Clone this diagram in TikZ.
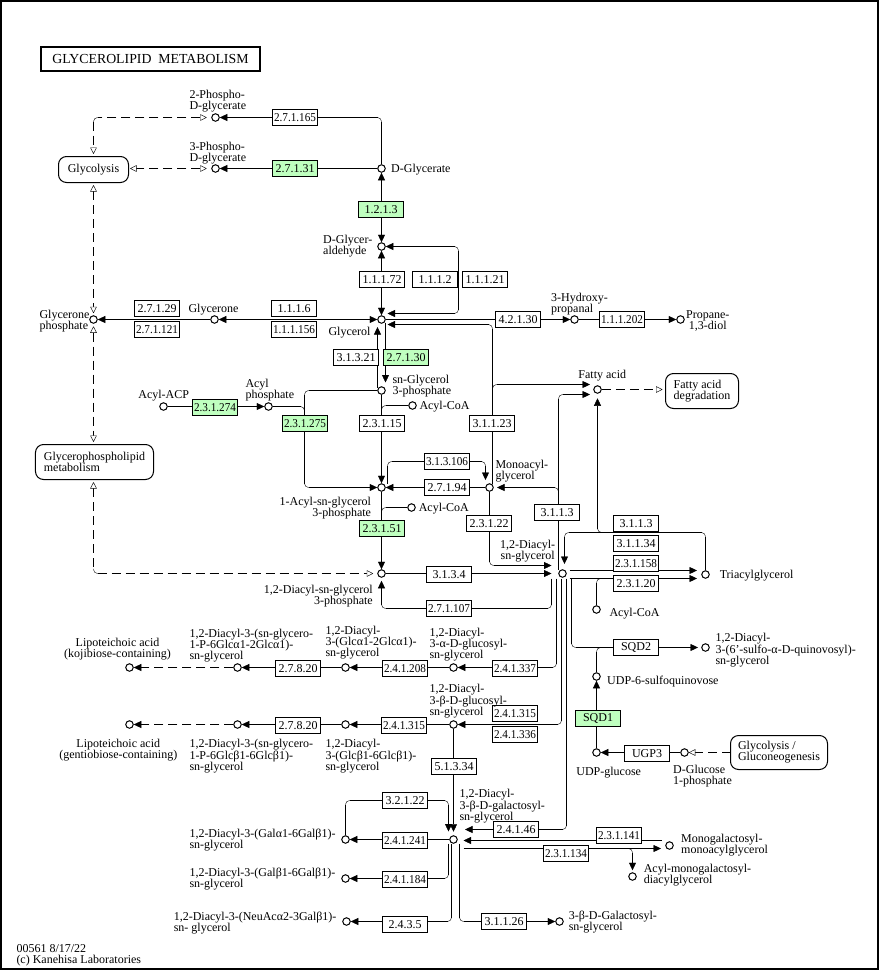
\documentclass[tikz,border=0pt]{standalone}
\usepackage{graphicx}
\usepackage{fontspec}
\setmainfont{Liberation Serif}
\usetikzlibrary{arrows.meta,calc,backgrounds}
\definecolor{kgreen}{RGB}{191,255,191}
\newsavebox{\ecbox}
\newcommand{\ecfit}[1]{\sbox{\ecbox}{#1}\ifdim\wd\ecbox>42bp\resizebox{42bp}{\height}{#1}\else\usebox{\ecbox}\fi}
\newcommand{\kgfont}{\fontsize{12bp}{11bp}\selectfont}
\newcommand{\rcor}[3]{\draw[rounded corners=4bp] #1 -- #2 -- #3;}
\newcommand{\medges}[1]{\draw ($(#1.north west)+(8,0)$) -- ($(#1.north east)+(-8,0)$) ($(#1.north east)+(0,8)$) -- ($(#1.south east)+(0,-8)$) ($(#1.south east)+(-8,0)$) -- ($(#1.south west)+(8,0)$) ($(#1.south west)+(0,-8)$) -- ($(#1.north west)+(0,8)$);}
\begin{document}
\begin{tikzpicture}[x=1bp,y=-1bp,line width=1bp,
  cpd/.style={circle,draw,fill=white,minimum size=7.5bp,inner sep=0pt},
  ec/.style={draw,fill=white,minimum width=45bp,minimum height=16bp,inner sep=0pt,font=\kgfont},
  ecg/.style={ec,fill=kgreen},
  pmap/.style={draw,rounded corners=8bp,inner sep=0pt,outer sep=0pt,font=\kgfont,align=left},
  lbl/.style={inner sep=0pt,font=\kgfont},
  mlbl/.style={lbl,align=left},
  arr/.style={-{Triangle[length=7.5bp,width=7bp]}},
  sarr/.style={{Triangle[length=7.5bp,width=7bp]}-},
  arrb/.style={{Triangle[length=7.5bp,width=7bp]}-{Triangle[length=7.5bp,width=7bp]}},
  oarr/.style={-{Triangle[open,length=6.5bp,width=6.5bp,fill=white]}},
  osarr/.style={{Triangle[open,length=6.5bp,width=6.5bp,fill=white]}-},
  oarrb/.style={{Triangle[open,length=6.5bp,width=6.5bp,fill=white]}-{Triangle[open,length=6.5bp,width=6.5bp,fill=white]}},
  link/.style={dash pattern=on 9bp off 5bp}]
\useasboundingbox (0,0) rectangle (882,971);
\draw[line width=2bp] (1,1) rectangle (878,969);

% title
\node[draw,line width=2bp,minimum width=218bp,minimum height=24bp,inner sep=0pt,font=\fontsize{13.8bp}{14bp}\selectfont] (title) at (150.5,58.5) {GLYCEROLIPID\ \ METABOLISM};

% compounds
\node[cpd] (c2pg) at (215.5,117.5) {};
\node[cpd] (c3pg) at (215.5,168.5) {};
\node[cpd] (cdgly) at (381.5,168.5) {};
\node[cpd] (cdgald) at (381.5,246.5) {};
\node[cpd] (cgol) at (381.5,319.5) {};
\node[cpd] (cgone) at (214.5,319.5) {};
\node[cpd] (cgonep) at (93.5,319.5) {};
\node[cpd] (c3hp) at (574.5,319.5) {};
\node[cpd] (cprop) at (680.5,319.5) {};
\node[cpd] (cg3p) at (381.5,390.5) {};
\node[cpd] (cacp) at (163.5,406.5) {};
\node[cpd] (cacylp) at (268.5,406.5) {};
\node[cpd] (cacoaA) at (412.5,405.5) {};
\node[cpd] (cfa) at (597.5,389.5) {};
\node[cpd] (clpa) at (381.5,487.5) {};
\node[cpd] (cmag) at (489.5,487.5) {};
\node[cpd] (cacoaB) at (411.5,507.5) {};
\node[cpd] (cpa) at (381.5,573.5) {};
\node[cpd] (cdag) at (562.5,573.5) {};
\node[cpd] (ctag) at (705.5,574.5) {};
\node[cpd] (cacoaC) at (596.5,609.5) {};
\node[cpd] (csqdg) at (705.5,647.5) {};
\node[cpd] (cudpsq) at (596.5,676.5) {};
\node[cpd] (cudpg) at (596.5,752.5) {};
\node[cpd] (cg1p) at (684.5,752.5) {};
\node[cpd] (cagd) at (453.5,667.5) {};
\node[cpd] (ckA) at (345.5,667.5) {};
\node[cpd] (ckB) at (237.5,667.5) {};
\node[cpd] (ckC) at (129.5,667.5) {};
\node[cpd] (cbgd) at (453.5,724.5) {};
\node[cpd] (cgA) at (345.5,724.5) {};
\node[cpd] (cgB) at (237.5,724.5) {};
\node[cpd] (cgC) at (129.5,724.5) {};
\node[cpd] (cmgdg) at (453.5,839.5) {};
\node[cpd] (cdgdgA) at (345.5,839.5) {};
\node[cpd] (cdgdgB) at (345.5,878.5) {};
\node[cpd] (cneu) at (346.5,921.5) {};
\node[cpd] (cmgmg) at (669.5,845.5) {};
\node[cpd] (camgdg) at (632.5,876.5) {};
\node[cpd] (cgals) at (559.5,921.5) {};

% pathway maps
\node[pmap,align=center,minimum width=70bp,minimum height=26bp] (mglyc) at (93.5,169.5) {Glycolysis};
\node[pmap,minimum width=118bp,minimum height=35bp] (mgpl) at (94.5,462) {Glycerophospholipid\\metabolism};
\node[pmap,minimum width=73bp,minimum height=35bp] (mfad) at (702,391) {Fatty acid\\degradation};
\node[pmap,minimum width=97bp,minimum height=34bp] (mglyneo) at (779,752.5) {Glycolysis /\\Gluconeogenesis};
\medges{mglyc}
\medges{mgpl}
\medges{mfad}
\medges{mglyneo}

% enzymes
\node[ec] (e01) at (295,117.5) {\ecfit{2.7.1.165}};
\node[ecg] (e02) at (295,168.5) {\ecfit{2.7.1.31}};
\node[ecg] (e03) at (381,209.5) {\ecfit{1.2.1.3}};
\node[ec] (e04) at (382,279.5) {\ecfit{1.1.1.72}};
\node[ec] (e05) at (435,279.5) {\ecfit{1.1.1.2}};
\node[ec] (e06) at (485,279.5) {\ecfit{1.1.1.21}};
\node[ec] (e07) at (157,308.5) {\ecfit{2.7.1.29}};
\node[ec] (e08) at (157,329.5) {\ecfit{2.7.1.121}};
\node[ec] (e09) at (294,308.5) {\ecfit{1.1.1.6}};
\node[ec] (e10) at (294,329.5) {\ecfit{1.1.1.156}};
\node[ec] (e11) at (518,319.5) {\ecfit{4.2.1.30}};
\node[ec] (e12) at (622,319.5) {\ecfit{1.1.1.202}};
\node[ec] (e13) at (356,357.5) {\ecfit{3.1.3.21}};
\node[ecg] (e14) at (406,357.5) {\ecfit{2.7.1.30}};
\node[ecg] (e15) at (215,407.5) {\ecfit{2.3.1.274}};
\node[ecg] (e16) at (305,423.5) {\ecfit{2.3.1.275}};
\node[ec] (e17) at (382,423.5) {\ecfit{2.3.1.15}};
\node[ec] (e18) at (492,423.5) {\ecfit{3.1.1.23}};
\node[ec] (e19) at (447,461.5) {\ecfit{3.1.3.106}};
\node[ec] (e20) at (447,487.5) {\ecfit{2.7.1.94}};
\node[ecg] (e21) at (382,528.5) {\ecfit{2.3.1.51}};
\node[ec] (e22) at (489,523.5) {\ecfit{2.3.1.22}};
\node[ec] (e23) at (557,512.5) {\ecfit{3.1.1.3}};
\node[ec] (e24) at (636,523.5) {\ecfit{3.1.1.3}};
\node[ec] (e25) at (636,543.5) {\ecfit{3.1.1.34}};
\node[ec] (e26) at (636,563.5) {\ecfit{2.3.1.158}};
\node[ec] (e27) at (636,583.5) {\ecfit{2.3.1.20}};
\node[ec] (e28) at (449,574.5) {\ecfit{3.1.3.4}};
\node[ec] (e29) at (449,608.5) {\ecfit{2.7.1.107}};
\node[ec] (e30) at (636,647.5) {\ecfit{SQD2}};
\node[ecg] (e31) at (598,718.5) {\ecfit{SQD1}};
\node[ec] (e32) at (647,753.5) {\ecfit{UGP3}};
\node[ec] (e33) at (298,668.5) {\ecfit{2.7.8.20}};
\node[ec] (e34) at (405,668.5) {\ecfit{2.4.1.208}};
\node[ec] (e35) at (515,668.5) {\ecfit{2.4.1.337}};
\node[ec] (e36) at (298,725.5) {\ecfit{2.7.8.20}};
\node[ec] (e37) at (404,725.5) {\ecfit{2.4.1.315}};
\node[ec] (e38) at (515,713.5) {\ecfit{2.4.1.315}};
\node[ec] (e39) at (515,734.5) {\ecfit{2.4.1.336}};
\node[ec] (e40) at (454,766.5) {\ecfit{5.1.3.34}};
\node[ec] (e41) at (405,800.5) {\ecfit{3.2.1.22}};
\node[ec] (e42) at (405,840.5) {\ecfit{2.4.1.241}};
\node[ec] (e43) at (405,879.5) {\ecfit{2.4.1.184}};
\node[ec] (e44) at (405,924.5) {\ecfit{2.4.3.5}};
\node[ec] (e45) at (516,829.5) {\ecfit{2.4.1.46}};
\node[ec] (e46) at (619,835.5) {\ecfit{2.3.1.141}};
\node[ec] (e47) at (566,853.5) {\ecfit{2.3.1.134}};
\node[ec] (e48) at (504,921.5) {\ecfit{3.1.1.26}};

% labels
\node[mlbl,anchor=north west] (l01) at (189,89.8) {2-Phospho-\\D-glycerate};
\node[mlbl,anchor=north west] (l02) at (189,141.2) {3-Phospho-\\D-glycerate};
\node[lbl,anchor=base west] (l03) at (390.7,172.3) {D-Glycerate};
\node[mlbl,anchor=north west] (l04) at (322.7,234.8) {D-Glycer-\\aldehyde};
\node[lbl,anchor=base] (l05) at (213.5,312.3) {Glycerone};
\node[lbl,anchor=base east] (l06) at (371,335.7) {Glycerol};
\node[mlbl,anchor=north west] (l07) at (39,309.5) {Glycerone\\phosphate};
\node[mlbl,anchor=north west] (l08) at (392,374.5) {sn-Glycerol\\3-phosphate};
\node[lbl,anchor=base] (l09) at (163.7,398) {Acyl-ACP};
\node[mlbl,anchor=north west] (l10) at (245,378.2) {Acyl\\phosphate};
\node[lbl,anchor=base west] (l11) at (419,409) {Acyl-CoA};
\node[lbl,anchor=base west] (l12) at (418.3,511.3) {Acyl-CoA};
\node[mlbl,anchor=north west] (l13) at (495,459.8) {Monoacyl-\\glycerol};
\node[lbl,align=right,anchor=north east] (l14) at (371.5,496.2) {1-Acyl-sn-glycerol\\3-phosphate};
\node[lbl,align=right,anchor=north east] (l15) at (373.3,584.8) {1,2-Diacyl-sn-glycerol\\3-phosphate};
\node[lbl,align=center,anchor=north] (l16) at (527.7,539.8) {1,2-Diacyl-\\sn-glycerol};
\node[lbl,anchor=base] (l17) at (602.3,378) {Fatty acid};
\node[mlbl,anchor=north west] (l18) at (550.7,292.2) {3-Hydroxy-\\propanal};
\node[lbl,align=center,anchor=north] (l19) at (707.8,309.8) {Propane-\\1,3-diol};
\node[lbl,anchor=base west] (l20) at (719.3,578.3) {Triacylglycerol};
\node[lbl,anchor=base west] (l21) at (609,616) {Acyl-CoA};
\node[mlbl,anchor=north west] (l22) at (715,632.2) {1,2-Diacyl-\\3-(6'-sulfo-α-D-quinovosyl)-\\sn-glycerol};
\node[lbl,anchor=base west] (l23) at (606.7,684.3) {UDP-6-sulfoquinovose};
\node[lbl,anchor=base] (l24) at (608.7,775.7) {UDP-glucose};
\node[mlbl,anchor=north west] (l25) at (672.7,764.8) {D-Glucose\\1-phosphate};
\node[mlbl,anchor=north west] (l26) at (429,627.5) {1,2-Diacyl-\\3-α-D-glucosyl-\\sn-glycerol};
\node[mlbl,anchor=north west] (l27) at (429,683.5) {1,2-Diacyl-\\3-β-D-glucosyl-\\sn-glycerol};
\node[mlbl,anchor=north west] (l28) at (325,625.5) {1,2-Diacyl-\\3-(Glcα1-2Glcα1)-\\sn-glycerol};
\node[mlbl,anchor=north west] (l29) at (189,628.8) {1,2-Diacyl-3-(sn-glycero-\\1-P-6Glcα1-2Glcα1)-\\sn-glycerol};
\node[lbl,align=center,anchor=north] (l30) at (117.5,637.8) {Lipoteichoic acid\\(kojibiose-containing)};
\node[lbl,align=center,anchor=north] (l31) at (118.3,738.8) {Lipoteichoic acid\\(gentiobiose-containing)};
\node[mlbl,anchor=north west] (l32) at (189,738.8) {1,2-Diacyl-3-(sn-glycero-\\1-P-6Glcβ1-6Glcβ1)-\\sn-glycerol};
\node[mlbl,anchor=north west] (l33) at (325,738.8) {1,2-Diacyl-\\3-(Glcβ1-6Glcβ1)-\\sn-glycerol};
\node[mlbl,anchor=north west] (l34) at (459,788.2) {1,2-Diacyl-\\3-β-D-galactosyl-\\sn-glycerol};
\node[mlbl,anchor=north west] (l35) at (189,828.8) {1,2-Diacyl-3-(Galα1-6Galβ1)-\\sn-glycerol};
\node[mlbl,anchor=north west] (l36) at (189,867.8) {1,2-Diacyl-3-(Galβ1-6Galβ1)-\\sn-glycerol};
\node[mlbl,anchor=north west] (l37) at (173.3,911.2) {1,2-Diacyl-3-(NeuAcα2-3Galβ1)-\\sn- glycerol};
\node[mlbl,anchor=north west] (l38) at (680.7,833.8) {Monogalactosyl-\\monoacylglycerol};
\node[mlbl,anchor=north west] (l39) at (643.3,863.8) {Acyl-monogalactosyl-\\diacylglycerol};
\node[mlbl,anchor=north west] (l40) at (568.3,910.5) {3-β-D-Galactosyl-\\sn-glycerol};
\node[mlbl,anchor=north west] (l41) at (16,944.5) {00561 8/17/22\\(c) Kanehisa Laboratories};

\begin{scope}[on background layer]
% top
\draw[arr] (cdgly) -- (c3pg);
\draw[arr] (cdgly.north) -- (381.5,121.5) (377.5,117.5) -- (c2pg.east);
\rcor{(381.5,121.5)}{(381.5,117.5)}{(377.5,117.5)}
\draw[arrb] (cdgald) -- (cdgly);
\draw[link,osarr,shorten <=4.5bp] (c2pg.west) -- (97.5,117.5);
\draw[link,oarr,shorten >=2.5bp] (93.5,121.5) -- (cgonep |- mglyc.north);
\rcor{(97.5,117.5)}{(93.5,117.5)}{(93.5,121.5)}
\draw[link,oarrb,shorten <=4.5bp,shorten >=1.5bp] (c3pg.west) -- (c3pg.west -| mglyc.east);
\draw[link,oarrb,shorten <=2.5bp,shorten >=2bp] (cgonep |- mglyc.south) -- (cgonep.north);
\draw[link,oarrb,shorten <=2.5bp,shorten >=2.5bp] (cgonep.south) -- (cgonep |- mgpl.north);
\draw[link,osarr,shorten <=2.5bp] (cgonep |- mgpl.south) -- (93.5,569.5);
\draw[link,oarr,shorten >=4bp] (97.5,573.5) -- (cpa.west);
\rcor{(93.5,569.5)}{(93.5,573.5)}{(97.5,573.5)}
% glycerol
\draw[arrb] (cgone) -- (cgol);
\draw[arr] (cgone) -- (cgonep);
\draw[arrb] (cgol) -- (cdgald);
\draw[sarr] (cdgald.east) -- (454.5,246.5);
\draw (458.5,250.5) -- (458.5,309.5);
\draw[arr] (454.5,313.5) -- ($(cgol)+(6,-6)$);
\rcor{(454.5,246.5)}{(458.5,246.5)}{(458.5,250.5)}
\rcor{(458.5,309.5)}{(458.5,313.5)}{(454.5,313.5)}
\draw[arr] (cgol) -- (c3hp);
\draw[arr] (c3hp) -- (cprop);
\draw[arr] ($(cmag)+(3,-3.5)$) -- (492.5,328.5) (488.5,324.5) -- ($(cgol)+(6,5)$);
\rcor{(492.5,328.5)}{(492.5,324.5)}{(488.5,324.5)}
\draw[arr] (492.5,400) -- (492.5,388.5) (496.5,384.5) -- ($(cfa)+(-7.5,-5)$);
\rcor{(492.5,388.5)}{(492.5,384.5)}{(496.5,384.5)}
\draw[arr] ($(cg3p)+(-4,-3)$) -- ($(cgol)+(-4,7.5)$);
\draw[arr] ($(cgol)+(4,3)$) -- ($(cg3p)+(4,-8)$);
% acyl
\draw[arr] (cacp) -- (cacylp);
\draw[arr] (cg3p.west) -- (308.5,390.5) (304.5,394.5) -- (304.5,483.5) (308.5,487.5) -- (clpa.west);
\rcor{(308.5,390.5)}{(304.5,390.5)}{(304.5,394.5)}
\rcor{(304.5,483.5)}{(304.5,487.5)}{(308.5,487.5)}
\draw (cacylp.east) -- (300.5,406.5) (304.5,410.5) -- (304.5,425);
\rcor{(300.5,406.5)}{(304.5,406.5)}{(304.5,410.5)}
\draw[arr] (cg3p) -- (clpa);
\draw (cacoaA.west) -- (385.5,405.5) (381.5,409.5) -- (381.5,425);
\rcor{(385.5,405.5)}{(381.5,405.5)}{(381.5,409.5)}
% MAG
\draw[arr] ($(clpa)+(6,-4)$) -- (387.5,465.5) (391.5,461.5) -- (481.5,461.5) (485.5,465.5) -- ($(cmag)+(-4,-7.5)$);
\rcor{(387.5,465.5)}{(387.5,461.5)}{(391.5,461.5)}
\rcor{(481.5,461.5)}{(485.5,461.5)}{(485.5,465.5)}
\draw[arr] (cmag) -- (clpa);
\draw[arr] (clpa) -- (cpa);
\draw (cacoaB.west) -- (385.5,507.5) (381.5,511.5) -- (381.5,530);
\rcor{(385.5,507.5)}{(381.5,507.5)}{(381.5,511.5)}
% DAG
\draw[arr] (cpa) -- ($(cdag)+(-11,0)$);
\draw[arr] (cmag.south) -- (489.5,561.5) (493.5,565.5) -- ($(cdag)+(-11,-8)$);
\rcor{(489.5,561.5)}{(489.5,565.5)}{(493.5,565.5)}
\draw[arr,shorten >=3bp] ($(cdag)+(-11,5)$) -- (551.5,604.5) (547.5,608.5) -- (385.5,608.5) (381.5,604.5) -- (cpa.south);
\rcor{(551.5,604.5)}{(551.5,608.5)}{(547.5,608.5)}
\rcor{(385.5,608.5)}{(381.5,608.5)}{(381.5,604.5)}
\draw[arr] ($(cdag)+(-4,-4)$) -- (558.5,398.5) (562.5,394.5) -- ($(cfa)+(-7.5,5)$);
\rcor{(558.5,398.5)}{(558.5,394.5)}{(562.5,394.5)}
\draw[arr] (558.5,505) -- (558.5,491.5) (554.5,487.5) -- ($(cmag)+(7.5,0)$);
\rcor{(558.5,491.5)}{(558.5,487.5)}{(554.5,487.5)}
% TAG
\draw[arr] (ctag.north) -- (705.5,536.5) (701.5,532.5) -- (568.5,532.5) (564.5,536.5) -- ($(cdag)+(2,-9.5)$);
\rcor{(705.5,536.5)}{(705.5,532.5)}{(701.5,532.5)}
\rcor{(568.5,532.5)}{(564.5,532.5)}{(564.5,536.5)}
\draw[arr] (620,532.5) -- (601.5,532.5) (597.5,528.5) -- ($(cfa.south)+(0,4.5)$);
\rcor{(601.5,532.5)}{(597.5,532.5)}{(597.5,528.5)}
\draw[arr] ($(cdag)+(7,-3)$) -- ($(ctag)+(-8.5,-4)$);
\draw[arr] ($(cdag)+(7,5)$) -- ($(ctag)+(-8.5,4)$);
\draw (cacoaC.north) -- (596.5,582.5) (600.5,578.5) -- (625,578.5);
\rcor{(596.5,582.5)}{(596.5,578.5)}{(600.5,578.5)}
% fatty acid degradation
\draw[link,oarr,shorten >=3bp] (cfa.east) -- (cfa.east -| mfad.west);
% SQD
\draw[arr] ($(cdag)+(9,5)$) -- (571.5,643.5) (575.5,647.5) -- ($(csqdg)+(-7.5,0)$);
\rcor{(571.5,643.5)}{(571.5,647.5)}{(575.5,647.5)}
\draw (cudpsq.north) -- (596.5,651.5) (600.5,647.5) -- (625,647.5);
\rcor{(596.5,651.5)}{(596.5,647.5)}{(600.5,647.5)}
\draw[arr] (cudpg) -- (cudpsq);
\draw[arr] (cg1p) -- (cudpg);
\draw[link,oarr] (mglyneo.west |- cg1p) -- (cg1p.east);
% glucosyl
\draw[arr] ($(cdag)+(-6,5)$) -- (556.5,663.5) (552.5,667.5) -- (cagd.east);
\rcor{(556.5,663.5)}{(556.5,667.5)}{(552.5,667.5)}
\draw[arr] ($(cdag)+(-1,5)$) -- (561.5,720.5) (557.5,724.5) -- (cbgd.east);
\rcor{(561.5,720.5)}{(561.5,724.5)}{(557.5,724.5)}
\draw[arr] ($(cdag)+(4,5)$) -- (566.5,825.5) (562.5,829.5) -- ($(cmgdg)+(11.5,-10)$);
\rcor{(566.5,825.5)}{(566.5,829.5)}{(562.5,829.5)}
\draw[arr] (cagd) -- (ckA);
\draw[arr] (ckA) -- (ckB);
\draw[link,arr] (ckB) -- (ckC);
\draw[arr] (cbgd) -- (cgA);
\draw[arr] (cgA) -- (cgB);
\draw[link,arr] (cgB) -- (cgC);
% galactosyl
\draw[arr] (cbgd) -- ($(cmgdg.north)+(0,-3.5)$);
\draw[arr] (cdgdgA.north) -- (345.5,804.5) (349.5,800.5) -- (444.5,800.5) (448.5,804.5) -- ($(cmgdg)+(-5,-8)$);
\rcor{(345.5,804.5)}{(345.5,800.5)}{(349.5,800.5)}
\rcor{(444.5,800.5)}{(448.5,800.5)}{(448.5,804.5)}
\draw[arr] (cmgdg) -- (cdgdgA);
\draw[arr] ($(cmgdg)+(-5,4)$) -- (448.5,874.5) (444.5,878.5) -- (cdgdgB.east);
\rcor{(448.5,874.5)}{(448.5,878.5)}{(444.5,878.5)}
\draw[arr] ($(cmgdg)+(-2,4)$) -- (451.5,917.5) (447.5,921.5) -- (cneu.east);
\rcor{(451.5,917.5)}{(451.5,921.5)}{(447.5,921.5)}
\draw[arr] ($(cmgdg)+(6,4)$) -- (459.5,917.5) (463.5,921.5) -- (cgals.west);
\rcor{(459.5,917.5)}{(459.5,921.5)}{(463.5,921.5)}
\draw[arr] ($(cmgmg)+(-7.5,-5)$) -- ($(cmgdg)+(10,1)$);
\draw[arr] ($(cmgdg)+(10,9)$) -- ($(cmgmg)+(-8.5,3)$);
\draw[arr] (615,848.5) -- (628.5,848.5) (632.5,852.5) -- ($(camgdg.north)+(0,-2)$);
\rcor{(628.5,848.5)}{(632.5,848.5)}{(632.5,852.5)}
\end{scope}
\end{tikzpicture}
\end{document}
